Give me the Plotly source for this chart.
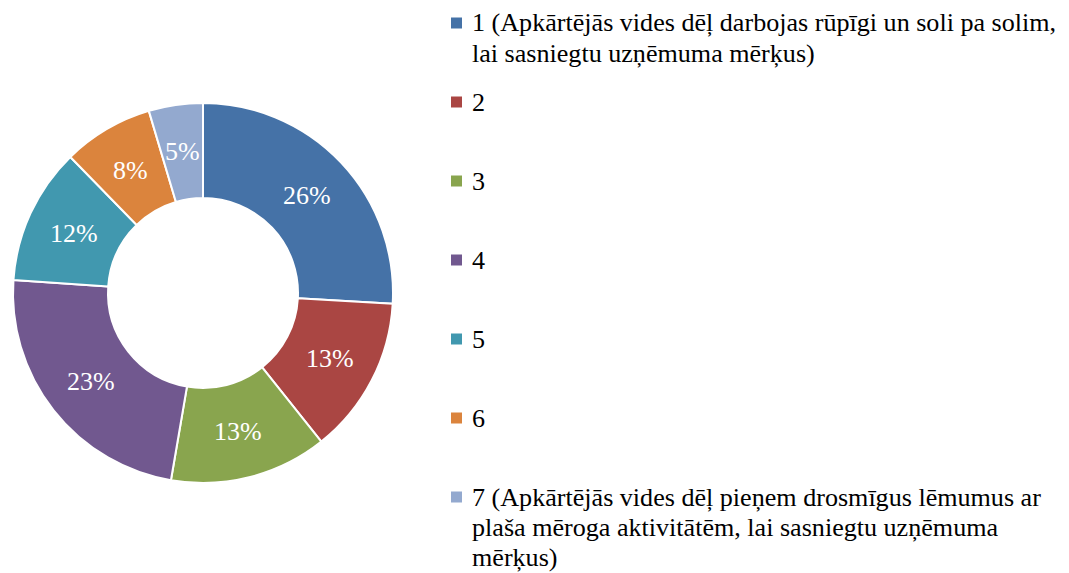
import math
import plotly.graph_objects as go

# ---- data ----
categories = ["1", "2", "3", "4", "5", "6", "7"]
values = [25.9, 13.4, 13.4, 23.4, 11.6, 7.7, 4.6]
legend_lines = [
    ["1 (Apkārtējās vides dēļ darbojas rūpīgi un soli pa solim,", "lai sasniegtu uzņēmuma mērķus)"],
    ["2"],
    ["3"],
    ["4"],
    ["5"],
    ["6"],
    ["7 (Apkārtējās vides dēļ pieņem drosmīgus lēmumus ar", "plaša mēroga aktivitātēm, lai sasniegtu uzņēmuma", "mērķus)"],
]
colors = ["#4572A7", "#AA4643", "#89A54E", "#71588F", "#4198AF", "#DB843D", "#93A9CF"]

W, H = 1069, 573
OFF = 8  # page body margin
FONT = "Liberation Serif, Times New Roman, serif"

def px_x(x):
    return (x - OFF) / W

def px_y(y):
    return 1 - (y - OFF) / H

# pie geometry (window pixels)
CX, CY, R = 203, 293, 190
HOLE = 0.5

fig = go.Figure()
fig.add_trace(go.Pie(
    labels=categories,
    values=values,
    hole=HOLE,
    sort=False,
    direction="clockwise",
    rotation=0,
    marker=dict(colors=colors, line=dict(color="white", width=2)),
    textinfo="none",
    domain=dict(x=[px_x(CX - R), px_x(CX + R)], y=[px_y(CY + R), px_y(CY - R)]),
    showlegend=False,
))

annotations = []
shapes = []

# percentage labels at the mid-angle / mid-radius of each slice
total = sum(values)
cum = 0
r_lab = R * (1 + HOLE) / 2
for v in values:
    mid = (cum + v / 2) / total * 2 * math.pi
    cum += v
    lx = CX + r_lab * math.sin(mid)
    ly = CY - r_lab * math.cos(mid)
    annotations.append(dict(xref="paper", yref="paper", x=px_x(lx), y=px_y(ly),
                            xanchor="center", yanchor="middle", showarrow=False,
                            text=f"{round(v / total * 100)}%",
                            font=dict(family=FONT, size=26, color="white")))

# ---- custom legend ----
mx = 451
y_first = 23
step = 79
line_h = 30
for i, (lines, col) in enumerate(zip(legend_lines, colors)):
    cy = y_first + step * i
    shapes.append(dict(type="rect", xref="paper", yref="paper",
                       x0=px_x(mx), x1=px_x(mx + 11),
                       y0=px_y(cy + 5.5), y1=px_y(cy - 5.5),
                       fillcolor=col, line=dict(width=0)))
    for j, ln in enumerate(lines):
        annotations.append(dict(xref="paper", yref="paper",
                                x=px_x(469.5), y=px_y(cy + j * line_h),
                                xanchor="left", yanchor="middle", align="left",
                                showarrow=False, text=ln,
                                font=dict(family=FONT, size=26.1, color="black")))

fig.update_layout(
    width=W, height=H,
    margin=dict(l=0, r=0, t=0, b=0),
    paper_bgcolor="white", plot_bgcolor="white",
    shapes=shapes, annotations=annotations,
)
fig.write_html("out.html")
